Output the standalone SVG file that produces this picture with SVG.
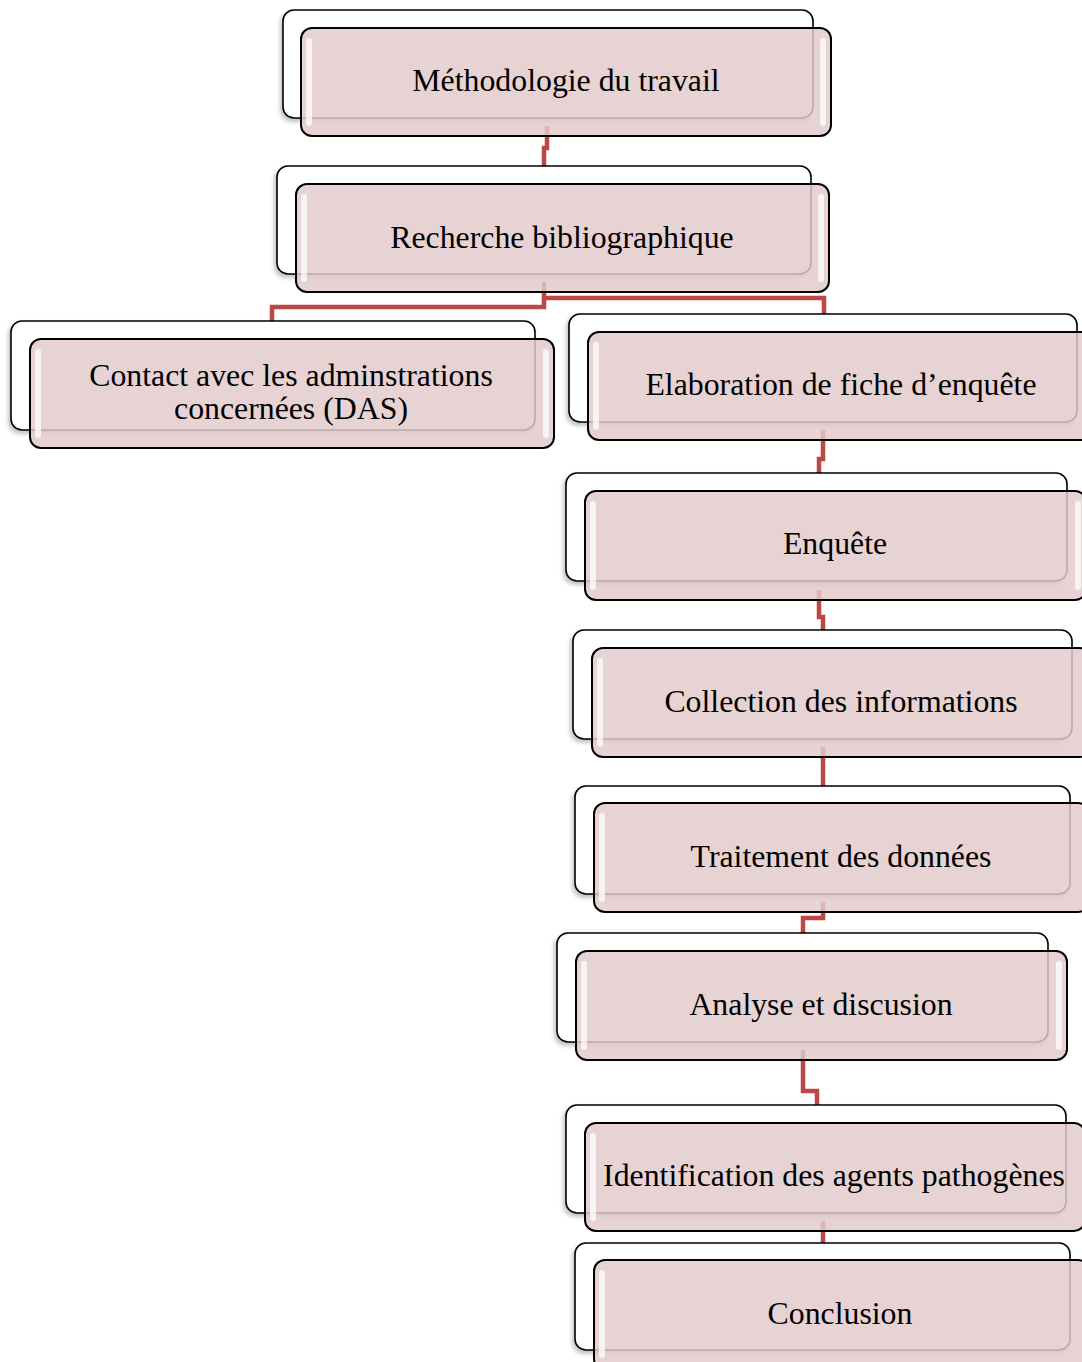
<svg xmlns="http://www.w3.org/2000/svg" width="1082" height="1362" viewBox="0 0 1082 1362">
<defs>
<style>
.back{fill:#ffffff;stroke:#000000;stroke-width:1.6}
.front{fill:#e2cacb;fill-opacity:0.84;stroke:#000000;stroke-width:2}
.hl{fill:#ffffff;opacity:0.75}
.lbl{font-family:"Liberation Serif","Times New Roman",serif;font-size:31.8px;fill:#000000;text-anchor:middle}
.conn{fill:none;stroke:#bb4844;stroke-width:4.5}
</style>
<filter id="sh" x="-5%" y="-5%" width="110%" height="120%">
<feDropShadow dx="-2" dy="3" stdDeviation="2" flood-color="#000" flood-opacity="0.25"/>
</filter>
</defs>
<rect width="1082" height="1362" fill="#ffffff"/>
<g id="connectors">
<path class="conn" d="M547,126 V148 H544 V166"/>
<path class="conn" d="M544,282 V298 H824 V314"/>
<path class="conn" d="M544,298 V307 H272 V321"/>
<path class="conn" d="M823,430 V459 H819 V473"/>
<path class="conn" d="M819,590 V617 H823 V630"/>
<path class="conn" d="M823,747 V786"/>
<path class="conn" d="M823,902 V918 H803 V933"/>
<path class="conn" d="M803,1050 V1091 H817 V1105"/>
<path class="conn" d="M823,1221 V1243"/>
</g>
<g id="n1">
<rect class="back" filter="url(#sh)" x="283" y="10" width="530" height="108" rx="11"/>
<rect class="front" x="301" y="28" width="530" height="108" rx="11"/>
<rect class="hl" x="306" y="38" width="6" height="88" rx="3"/>
<rect class="hl" x="820" y="38" width="6" height="88" rx="3"/>
<text class="lbl" x="566" y="91">Méthodologie du travail</text>
</g>
<g id="n2">
<rect class="back" filter="url(#sh)" x="277" y="166" width="534" height="108" rx="11"/>
<rect class="front" x="296" y="184" width="533" height="108" rx="11"/>
<rect class="hl" x="301" y="194" width="6" height="88" rx="3"/>
<rect class="hl" x="818" y="194" width="6" height="88" rx="3"/>
<text class="lbl" x="562" y="248">Recherche bibliographique</text>
</g>
<g id="n3">
<rect class="back" filter="url(#sh)" x="11" y="321" width="524" height="109" rx="11"/>
<rect class="front" x="30" y="339" width="524" height="109" rx="11"/>
<rect class="hl" x="35" y="349" width="6" height="89" rx="3"/>
<rect class="hl" x="543" y="349" width="6" height="89" rx="3"/>
<text class="lbl" x="291" y="386">Contact avec les adminstrations</text>
<text class="lbl" x="291" y="419">concernées (DAS)</text>
</g>
<g id="n4">
<rect class="back" filter="url(#sh)" x="569" y="314" width="508" height="108" rx="11"/>
<rect class="front" x="588" y="332" width="508" height="108" rx="11"/>
<rect class="hl" x="593" y="342" width="6" height="88" rx="3"/>
<text class="lbl" x="841" y="395">Elaboration de fiche d’enquête</text>
</g>
<g id="n5">
<rect class="back" filter="url(#sh)" x="566" y="473" width="501" height="108" rx="11"/>
<rect class="front" x="585" y="491" width="501" height="109" rx="11"/>
<rect class="hl" x="590" y="501" width="6" height="89" rx="3"/>
<rect class="hl" x="1075" y="501" width="6" height="89" rx="3"/>
<text class="lbl" x="835" y="554">Enquête</text>
</g>
<g id="n6">
<rect class="back" filter="url(#sh)" x="573" y="630" width="499" height="109" rx="11"/>
<rect class="front" x="592" y="648" width="499" height="109" rx="11"/>
<rect class="hl" x="597" y="658" width="6" height="89" rx="3"/>
<text class="lbl" x="841" y="712">Collection des informations</text>
</g>
<g id="n7">
<rect class="back" filter="url(#sh)" x="575" y="786" width="495" height="108" rx="11"/>
<rect class="front" x="594" y="803" width="495" height="109" rx="11"/>
<rect class="hl" x="599" y="813" width="6" height="89" rx="3"/>
<text class="lbl" x="841" y="867">Traitement des données</text>
</g>
<g id="n8">
<rect class="back" filter="url(#sh)" x="557" y="933" width="491" height="109" rx="11"/>
<rect class="front" x="576" y="951" width="491" height="109" rx="11"/>
<rect class="hl" x="581" y="961" width="6" height="89" rx="3"/>
<rect class="hl" x="1056" y="961" width="6" height="89" rx="3"/>
<text class="lbl" x="821" y="1015">Analyse et discusion</text>
</g>
<g id="n9">
<rect class="back" filter="url(#sh)" x="566" y="1105" width="500" height="108" rx="11"/>
<rect class="front" x="585" y="1123" width="500" height="108" rx="11"/>
<rect class="hl" x="590" y="1133" width="6" height="88" rx="3"/>
<text class="lbl" x="834" y="1186">Identification des agents pathogènes</text>
</g>
<g id="n10">
<rect class="back" filter="url(#sh)" x="575" y="1243" width="495" height="107" rx="11"/>
<rect class="front" x="594" y="1260" width="495" height="110" rx="11"/>
<rect class="hl" x="599" y="1270" width="6" height="88" rx="3"/>
<text class="lbl" x="840" y="1324">Conclusion</text>
</g>
</svg>
